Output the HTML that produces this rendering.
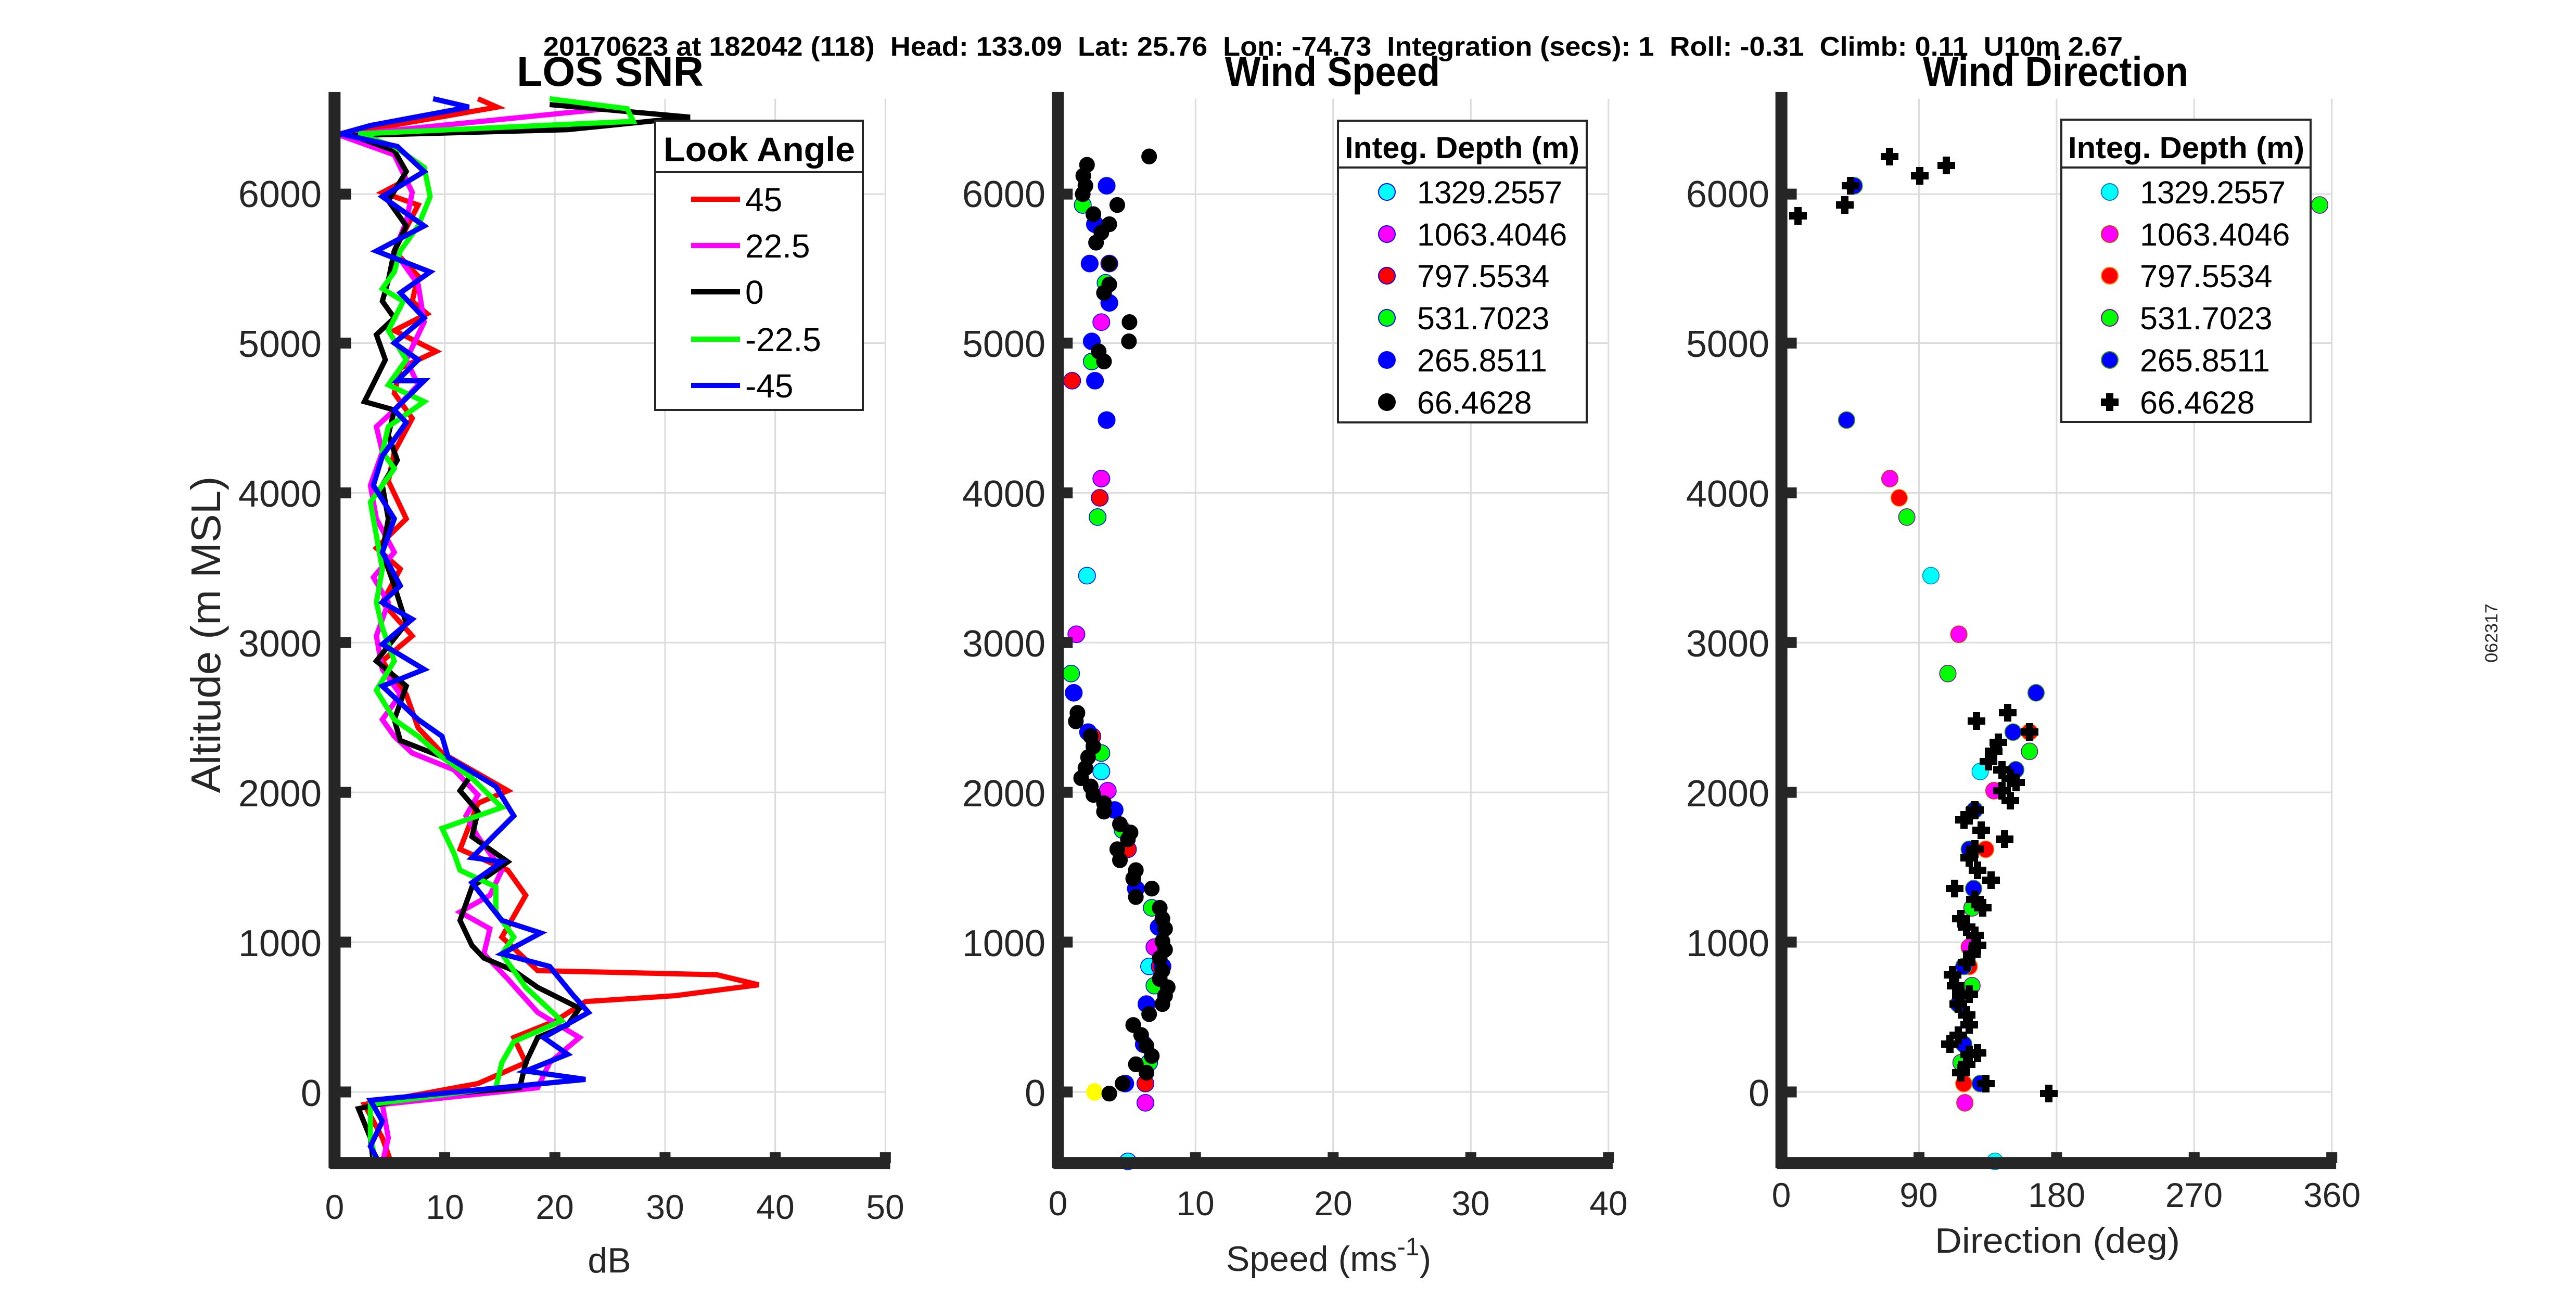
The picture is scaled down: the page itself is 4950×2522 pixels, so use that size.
<!DOCTYPE html>
<html><head><meta charset="utf-8"><style>
html,body{margin:0;padding:0;background:#fff;}
svg{display:block;}
text{font-family:"Liberation Sans",Arial,sans-serif;fill:#262626;white-space:pre;}
.b{font-weight:bold;fill:#000;}
.grid line{stroke:#dcdcdc;stroke-width:3;vector-effect:non-scaling-stroke;}
.ax line{stroke:#262626;stroke-width:23;vector-effect:non-scaling-stroke;}
.tk line{stroke:#262626;stroke-width:21;vector-effect:non-scaling-stroke;}
.d polyline{fill:none;stroke-width:10;stroke-linejoin:miter;vector-effect:non-scaling-stroke;}
.m ellipse{stroke-width:1.5;vector-effect:non-scaling-stroke;}
</style></head><body>
<svg width="4950" height="2522" viewBox="0 0 4950 2522" xmlns="http://www.w3.org/2000/svg" xml:space="preserve">
<rect width="4950" height="2522" fill="#fff"/>

<text class="b" x="1044" y="107" font-size="52" textLength="3035" lengthAdjust="spacingAndGlyphs">20170623 at 182042 (118)  Head: 133.09  Lat: 25.76  Lon: -74.73  Integration (secs): 1  Roll: -0.31  Climb: 0.11  U10m 2.67</text>
<text class="b" x="993" y="165" font-size="80" textLength="359" lengthAdjust="spacingAndGlyphs">LOS SNR</text>
<text class="b" x="2354" y="165" font-size="80" textLength="413" lengthAdjust="spacingAndGlyphs">Wind Speed</text>
<text class="b" x="3695" y="165" font-size="80" textLength="510" lengthAdjust="spacingAndGlyphs">Wind Direction</text>

<g transform="matrix(1.148,0,0,1.6084,0,0)">
 <g class="grid">
  <line x1="744.4" y1="118" x2="744.4" y2="1390"/><line x1="928.8" y1="118" x2="928.8" y2="1390"/><line x1="1113.2" y1="118" x2="1113.2" y2="1390"/><line x1="1297.6" y1="118" x2="1297.6" y2="1390"/><line x1="1482" y1="118" x2="1482" y2="1390"/>
  <line x1="560" y1="1305" x2="1482" y2="1305"/><line x1="560" y1="1126" x2="1482" y2="1126"/><line x1="560" y1="947" x2="1482" y2="947"/><line x1="560" y1="768" x2="1482" y2="768"/><line x1="560" y1="589" x2="1482" y2="589"/><line x1="560" y1="410" x2="1482" y2="410"/><line x1="560" y1="232" x2="1482" y2="232"/>
 </g>
 <g class="d">
  <polyline stroke="#ff0000" points="800,118 832,128 575,160 660,180 680,215 640,230 700,245 660,300 700,330 690,360 715,375 660,395 730,420 670,440 660,470 690,500 660,540 650,575 680,620 630,655 670,680 640,720 690,760 640,790 680,830 700,870 740,900 850,945 800,960 770,1015 850,1040 880,1070 840,1120 900,1160 1200,1165 1270,1177 1130,1190 980,1197 930,1220 860,1240 880,1270 800,1295 610,1320 640,1360 655,1390"/>
  <polyline stroke="#ff00ff" points="1015,130 570,162 660,185 690,230 680,265 660,300 700,340 710,385 680,430 700,460 660,490 630,510 640,540 620,580 630,620 660,660 625,690 650,720 630,760 640,800 670,830 640,860 660,880 690,900 760,920 800,950 780,975 800,1000 840,1040 820,1070 770,1090 820,1110 810,1140 850,1170 900,1210 970,1240 920,1270 900,1300 640,1320 650,1360 640,1390"/>
  <polyline stroke="#000000" points="920,125 1155,140 950,155 590,162 660,180 680,205 650,240 680,270 660,300 650,335 640,360 660,380 630,400 645,430 610,480 660,490 650,520 665,550 640,580 650,620 640,660 660,700 680,745 630,790 680,820 660,860 670,885 760,910 790,925 770,945 800,970 790,1000 850,1030 790,1060 780,1080 770,1100 790,1130 810,1145 860,1160 900,1180 970,1205 950,1225 900,1240 880,1270 870,1300 700,1310 600,1325 620,1360 625,1390"/>
  <polyline stroke="#00ff00" points="920,118 1050,130 1060,145 600,160 660,175 710,200 720,235 700,270 670,300 660,325 640,345 675,360 650,395 680,430 650,460 710,480 650,510 640,540 660,560 620,600 630,640 640,680 630,720 640,750 660,790 630,825 660,860 700,880 740,905 790,930 840,965 740,990 760,1020 770,1040 830,1060 830,1090 860,1120 840,1140 880,1180 940,1220 860,1245 840,1270 830,1300 620,1320 620,1360 630,1390"/>
  <polyline stroke="#0000ff" points="725,118 785,128 620,150 570,160 665,175 710,205 640,235 710,270 630,300 720,325 670,350 710,380 660,410 700,430 665,455 710,455 660,490 680,505 640,545 625,580 660,620 640,660 670,700 640,720 690,740 640,770 710,800 640,820 700,860 740,880 750,905 830,940 860,975 790,1025 840,1030 790,1055 840,1100 905,1115 840,1140 920,1155 960,1190 985,1210 910,1240 950,1260 880,1280 980,1290 620,1315 640,1340 620,1370 635,1390"/>
 </g>
 <g class="ax"><line x1="560" y1="110" x2="560" y2="1396"/><line x1="552" y1="1390" x2="1490" y2="1390"/></g>
 <g class="tk">
  <line x1="560" y1="1305" x2="588" y2="1305"/><line x1="560" y1="1126" x2="588" y2="1126"/><line x1="560" y1="947" x2="588" y2="947"/><line x1="560" y1="768" x2="588" y2="768"/><line x1="560" y1="589" x2="588" y2="589"/><line x1="560" y1="410" x2="588" y2="410"/><line x1="560" y1="232" x2="588" y2="232"/>
  <line x1="744.4" y1="1390" x2="744.4" y2="1377"/><line x1="928.8" y1="1390" x2="928.8" y2="1377"/><line x1="1113.2" y1="1390" x2="1113.2" y2="1377"/><line x1="1297.6" y1="1390" x2="1297.6" y2="1377"/><line x1="1482" y1="1390" x2="1482" y2="1377"/>
 </g>
</g>

<g transform="matrix(1.0204,0,0,1.6084,1800,0)">
 <g class="grid">
  <line x1="487.3" y1="118" x2="487.3" y2="1390"/><line x1="746.5" y1="118" x2="746.5" y2="1390"/><line x1="1005.8" y1="118" x2="1005.8" y2="1390"/><line x1="1265" y1="118" x2="1265" y2="1390"/>
  <line x1="228" y1="1305" x2="1265" y2="1305"/><line x1="228" y1="1126" x2="1265" y2="1126"/><line x1="228" y1="947" x2="1265" y2="947"/><line x1="228" y1="768" x2="1265" y2="768"/><line x1="228" y1="589" x2="1265" y2="589"/><line x1="228" y1="410" x2="1265" y2="410"/><line x1="228" y1="232" x2="1265" y2="232"/>
 </g>
 <g class="m">
  <g fill="#00ffff" stroke="#0000ff"><ellipse cx="283" cy="688" rx="16" ry="10"/><ellipse cx="360" cy="1388" rx="16" ry="10"/><ellipse cx="310" cy="922" rx="16" ry="10"/><ellipse cx="400" cy="1155" rx="16" ry="10"/></g>
  <g fill="#ff00ff" stroke="#0000ff"><ellipse cx="310" cy="572" rx="16" ry="10"/><ellipse cx="263" cy="758" rx="16" ry="10"/><ellipse cx="310" cy="385" rx="16" ry="10"/><ellipse cx="322" cy="945" rx="16" ry="10"/><ellipse cx="393" cy="1318" rx="16" ry="10"/><ellipse cx="410" cy="1132" rx="16" ry="10"/></g>
  <g fill="#ff0000" stroke="#0000ff"><ellipse cx="255" cy="455" rx="16" ry="10"/><ellipse cx="307" cy="595" rx="16" ry="10"/><ellipse cx="325" cy="315" rx="16" ry="10"/><ellipse cx="293" cy="880" rx="16" ry="10"/><ellipse cx="360" cy="1015" rx="16" ry="10"/><ellipse cx="393" cy="1295" rx="16" ry="10"/><ellipse cx="420" cy="1155" rx="16" ry="10"/></g>
  <g fill="#00ff00" stroke="#0000ff"><ellipse cx="275" cy="245" rx="16" ry="10"/><ellipse cx="303" cy="618" rx="16" ry="10"/><ellipse cx="253" cy="805" rx="16" ry="10"/><ellipse cx="292" cy="432" rx="16" ry="10"/><ellipse cx="310" cy="900" rx="16" ry="10"/><ellipse cx="350" cy="992" rx="16" ry="10"/><ellipse cx="405" cy="1085" rx="16" ry="10"/><ellipse cx="410" cy="1178" rx="16" ry="10"/><ellipse cx="400" cy="1270" rx="16" ry="10"/><ellipse cx="318" cy="338" rx="16" ry="10"/></g>
  <g fill="#0000ff" stroke="#0000ff"><ellipse cx="320" cy="222" rx="16" ry="10"/><ellipse cx="288" cy="315" rx="16" ry="10"/><ellipse cx="292" cy="408" rx="16" ry="10"/><ellipse cx="298" cy="455" rx="16" ry="10"/><ellipse cx="320" cy="502" rx="16" ry="10"/><ellipse cx="258" cy="828" rx="16" ry="10"/><ellipse cx="285" cy="875" rx="16" ry="10"/><ellipse cx="335" cy="968" rx="16" ry="10"/><ellipse cx="375" cy="1062" rx="16" ry="10"/><ellipse cx="418" cy="1108" rx="16" ry="10"/><ellipse cx="425" cy="1155" rx="16" ry="10"/><ellipse cx="395" cy="1200" rx="16" ry="10"/><ellipse cx="390" cy="1248" rx="16" ry="10"/><ellipse cx="355" cy="1295" rx="16" ry="10"/><ellipse cx="298" cy="268" rx="16" ry="10"/><ellipse cx="325" cy="362" rx="16" ry="10"/></g>
  <g fill="#ffff00" stroke="#ffff00"><ellipse cx="297" cy="1305" rx="15" ry="10"/></g>
  <g fill="#000" stroke="#000">
   <ellipse cx="400" cy="187" rx="14" ry="9"/><ellipse cx="283" cy="197" rx="14" ry="9"/><ellipse cx="276" cy="210" rx="14" ry="9"/><ellipse cx="280" cy="222" rx="14" ry="9"/><ellipse cx="275" cy="232" rx="14" ry="9"/><ellipse cx="340" cy="245" rx="14" ry="9"/><ellipse cx="295" cy="256" rx="14" ry="9"/><ellipse cx="325" cy="268" rx="14" ry="9"/><ellipse cx="310" cy="278" rx="14" ry="9"/><ellipse cx="300" cy="290" rx="14" ry="9"/><ellipse cx="325" cy="315" rx="14" ry="9"/><ellipse cx="325" cy="340" rx="14" ry="9"/><ellipse cx="315" cy="350" rx="14" ry="9"/><ellipse cx="363" cy="385" rx="14" ry="9"/><ellipse cx="362" cy="408" rx="14" ry="9"/><ellipse cx="305" cy="420" rx="14" ry="9"/><ellipse cx="315" cy="432" rx="14" ry="9"/>
   <ellipse cx="265" cy="852" rx="14" ry="9"/><ellipse cx="262" cy="862" rx="14" ry="9"/><ellipse cx="290" cy="880" rx="14" ry="9"/><ellipse cx="295" cy="892" rx="14" ry="9"/><ellipse cx="285" cy="905" rx="14" ry="9"/><ellipse cx="280" cy="918" rx="14" ry="9"/><ellipse cx="272" cy="930" rx="14" ry="9"/><ellipse cx="290" cy="940" rx="14" ry="9"/><ellipse cx="295" cy="950" rx="14" ry="9"/><ellipse cx="315" cy="960" rx="14" ry="9"/><ellipse cx="315" cy="970" rx="14" ry="9"/><ellipse cx="345" cy="985" rx="14" ry="9"/><ellipse cx="365" cy="995" rx="14" ry="9"/><ellipse cx="360" cy="1003" rx="14" ry="9"/><ellipse cx="340" cy="1015" rx="14" ry="9"/><ellipse cx="345" cy="1028" rx="14" ry="9"/><ellipse cx="375" cy="1040" rx="14" ry="9"/><ellipse cx="370" cy="1050" rx="14" ry="9"/><ellipse cx="375" cy="1072" rx="14" ry="9"/><ellipse cx="405" cy="1062" rx="14" ry="9"/><ellipse cx="420" cy="1085" rx="14" ry="9"/><ellipse cx="425" cy="1098" rx="14" ry="9"/><ellipse cx="430" cy="1110" rx="14" ry="9"/><ellipse cx="425" cy="1125" rx="14" ry="9"/><ellipse cx="430" cy="1135" rx="14" ry="9"/><ellipse cx="420" cy="1145" rx="14" ry="9"/><ellipse cx="425" cy="1160" rx="14" ry="9"/><ellipse cx="420" cy="1170" rx="14" ry="9"/><ellipse cx="435" cy="1180" rx="14" ry="9"/><ellipse cx="430" cy="1190" rx="14" ry="9"/><ellipse cx="425" cy="1200" rx="14" ry="9"/><ellipse cx="400" cy="1212" rx="14" ry="9"/><ellipse cx="370" cy="1225" rx="14" ry="9"/><ellipse cx="385" cy="1237" rx="14" ry="9"/><ellipse cx="395" cy="1250" rx="14" ry="9"/><ellipse cx="405" cy="1262" rx="14" ry="9"/><ellipse cx="375" cy="1272" rx="14" ry="9"/><ellipse cx="395" cy="1282" rx="14" ry="9"/><ellipse cx="325" cy="1307" rx="14" ry="9"/><ellipse cx="350" cy="1295" rx="14" ry="9"/>
  </g>
 </g>
 <g class="ax"><line x1="228" y1="110" x2="228" y2="1396"/><line x1="220" y1="1390" x2="1273" y2="1390"/></g>
 <g class="tk">
  <line x1="228" y1="1305" x2="256" y2="1305"/><line x1="228" y1="1126" x2="256" y2="1126"/><line x1="228" y1="947" x2="256" y2="947"/><line x1="228" y1="768" x2="256" y2="768"/><line x1="228" y1="589" x2="256" y2="589"/><line x1="228" y1="410" x2="256" y2="410"/><line x1="228" y1="232" x2="256" y2="232"/>
  <line x1="487.3" y1="1390" x2="487.3" y2="1377"/><line x1="746.5" y1="1390" x2="746.5" y2="1377"/><line x1="1005.8" y1="1390" x2="1005.8" y2="1377"/><line x1="1265" y1="1390" x2="1265" y2="1377"/>
 </g>
</g>

<g transform="matrix(1.0523,0,0,1.6084,3300,0)">
 <g class="grid">
  <line x1="368.25" y1="118" x2="368.25" y2="1390"/><line x1="619.5" y1="118" x2="619.5" y2="1390"/><line x1="870.75" y1="118" x2="870.75" y2="1390"/><line x1="1122" y1="118" x2="1122" y2="1390"/>
  <line x1="117" y1="1305" x2="1122" y2="1305"/><line x1="117" y1="1126" x2="1122" y2="1126"/><line x1="117" y1="947" x2="1122" y2="947"/><line x1="117" y1="768" x2="1122" y2="768"/><line x1="117" y1="589" x2="1122" y2="589"/><line x1="117" y1="410" x2="1122" y2="410"/><line x1="117" y1="232" x2="1122" y2="232"/>
 </g>
 <g class="m">
  <g fill="#00ffff" stroke="#0080c0"><ellipse cx="390" cy="688" rx="15" ry="10"/><ellipse cx="507" cy="1388" rx="15" ry="10"/><ellipse cx="480" cy="922" rx="15" ry="10"/></g>
  <g fill="#ff00ff" stroke="#c04000"><ellipse cx="315" cy="572" rx="15" ry="10"/><ellipse cx="441" cy="758" rx="15" ry="10"/><ellipse cx="505" cy="945" rx="15" ry="10"/><ellipse cx="452" cy="1318" rx="15" ry="10"/><ellipse cx="460" cy="1132" rx="15" ry="10"/></g>
  <g fill="#ff0000" stroke="#ff8000"><ellipse cx="332" cy="595" rx="15" ry="10"/><ellipse cx="450" cy="1295" rx="15" ry="10"/><ellipse cx="490" cy="1015" rx="15" ry="10"/><ellipse cx="460" cy="1155" rx="15" ry="10"/><ellipse cx="570" cy="875" rx="15" ry="10"/></g>
  <g fill="#00ff00" stroke="#8000a0"><ellipse cx="346" cy="618" rx="15" ry="10"/><ellipse cx="421" cy="805" rx="15" ry="10"/><ellipse cx="1100" cy="245" rx="15" ry="10"/><ellipse cx="570" cy="898" rx="15" ry="10"/><ellipse cx="465" cy="1178" rx="15" ry="10"/><ellipse cx="465" cy="1085" rx="15" ry="10"/><ellipse cx="445" cy="1270" rx="15" ry="10"/></g>
  <g fill="#0000ff" stroke="#40a000"><ellipse cx="236" cy="502" rx="15" ry="10"/><ellipse cx="582" cy="828" rx="15" ry="10"/><ellipse cx="540" cy="875" rx="15" ry="10"/><ellipse cx="545" cy="920" rx="15" ry="10"/><ellipse cx="470" cy="968" rx="15" ry="10"/><ellipse cx="460" cy="1015" rx="15" ry="10"/><ellipse cx="468" cy="1062" rx="15" ry="10"/><ellipse cx="450" cy="1155" rx="15" ry="10"/><ellipse cx="440" cy="1200" rx="15" ry="10"/><ellipse cx="450" cy="1248" rx="15" ry="10"/><ellipse cx="480" cy="1295" rx="15" ry="10"/><ellipse cx="250" cy="222" rx="15" ry="10"/></g>
 </g>
 <g class="ax"><line x1="117" y1="110" x2="117" y2="1396"/><line x1="109" y1="1390" x2="1130" y2="1390"/></g>
 <g class="tk">
  <line x1="117" y1="1305" x2="145" y2="1305"/><line x1="117" y1="1126" x2="145" y2="1126"/><line x1="117" y1="947" x2="145" y2="947"/><line x1="117" y1="768" x2="145" y2="768"/><line x1="117" y1="589" x2="145" y2="589"/><line x1="117" y1="410" x2="145" y2="410"/><line x1="117" y1="232" x2="145" y2="232"/>
  <line x1="368.25" y1="1390" x2="368.25" y2="1377"/><line x1="619.5" y1="1390" x2="619.5" y2="1377"/><line x1="870.75" y1="1390" x2="870.75" y2="1377"/><line x1="1122" y1="1390" x2="1122" y2="1377"/>
 </g>
</g>

<defs><path id="pl" d="M-17,-7 H-7 V-17 H7 V-7 H17 V7 H7 V17 H-7 V7 H-17 Z"/></defs>
<g fill="#000">
<use href="#pl" x="3631" y="301"/><use href="#pl" x="3689" y="338"/><use href="#pl" x="3740" y="318"/><use href="#pl" x="3556" y="357"/><use href="#pl" x="3545" y="394"/><use href="#pl" x="3455" y="415"/>
<use href="#pl" x="3798" y="1386"/><use href="#pl" x="3858" y="1370"/><use href="#pl" x="3900" y="1407"/><use href="#pl" x="3840" y="1427"/><use href="#pl" x="3831" y="1444"/><use href="#pl" x="3821" y="1464"/><use href="#pl" x="3847" y="1480"/><use href="#pl" x="3863" y="1496"/><use href="#pl" x="3874" y="1504"/><use href="#pl" x="3847" y="1520"/><use href="#pl" x="3863" y="1539"/><use href="#pl" x="3852" y="1613"/><use href="#pl" x="3795" y="1557"/><use href="#pl" x="3784" y="1568"/><use href="#pl" x="3774" y="1576"/><use href="#pl" x="3807" y="1596"/><use href="#pl" x="3795" y="1632"/><use href="#pl" x="3784" y="1649"/><use href="#pl" x="3800" y="1673"/><use href="#pl" x="3826" y="1692"/><use href="#pl" x="3756" y="1708"/><use href="#pl" x="3795" y="1729"/><use href="#pl" x="3810" y="1745"/><use href="#pl" x="3768" y="1766"/><use href="#pl" x="3779" y="1782"/><use href="#pl" x="3795" y="1798"/><use href="#pl" x="3800" y="1817"/><use href="#pl" x="3789" y="1834"/><use href="#pl" x="3779" y="1850"/><use href="#pl" x="3752" y="1874"/><use href="#pl" x="3758" y="1895"/><use href="#pl" x="3768" y="1914"/><use href="#pl" x="3784" y="1911"/><use href="#pl" x="3763" y="1930"/><use href="#pl" x="3779" y="1951"/><use href="#pl" x="3784" y="1970"/><use href="#pl" x="3763" y="1990"/><use href="#pl" x="3747" y="2007"/><use href="#pl" x="3784" y="2027"/><use href="#pl" x="3800" y="2024"/><use href="#pl" x="3779" y="2046"/><use href="#pl" x="3768" y="2062"/><use href="#pl" x="3816" y="2083"/><use href="#pl" x="3937" y="2102"/>
</g>

<rect x="1259" y="232" width="399" height="556" fill="#fff" stroke="#262626" stroke-width="4"/>
<line x1="1259" y1="331" x2="1658" y2="331" stroke="#262626" stroke-width="4"/>
<text class="b" x="1275" y="310" font-size="66" textLength="368" lengthAdjust="spacingAndGlyphs">Look Angle</text>
<g stroke-width="10">
<line x1="1328" y1="383" x2="1422" y2="383" stroke="#ff0000"/><line x1="1328" y1="472" x2="1422" y2="472" stroke="#ff00ff"/><line x1="1328" y1="561" x2="1422" y2="561" stroke="#000"/><line x1="1328" y1="652" x2="1422" y2="652" stroke="#00ff00"/><line x1="1328" y1="741" x2="1422" y2="741" stroke="#0000ff"/>
</g>
<g font-size="64">
<text x="1432" y="406" style="fill:#000">45</text><text x="1432" y="495" style="fill:#000">22.5</text><text x="1432" y="584" style="fill:#000">0</text><text x="1432" y="675" style="fill:#000">-22.5</text><text x="1432" y="764" style="fill:#000">-45</text>
</g>

<rect x="2571" y="232" width="478" height="580" fill="#fff" stroke="#262626" stroke-width="4"/>
<line x1="2571" y1="322" x2="3049" y2="322" stroke="#262626" stroke-width="4"/>
<text class="b" x="2584" y="304" font-size="58" textLength="451" lengthAdjust="spacingAndGlyphs">Integ. Depth (m)</text>
<g stroke-width="2">
<circle cx="2665" cy="369" r="16" fill="#00ffff" stroke="#0000ff"/><circle cx="2665" cy="450" r="16" fill="#ff00ff" stroke="#0000ff"/><circle cx="2665" cy="530" r="16" fill="#ff0000" stroke="#0000ff"/><circle cx="2665" cy="611" r="16" fill="#00ff00" stroke="#0000ff"/><circle cx="2665" cy="692" r="16" fill="#0000ff" stroke="#0000ff"/><circle cx="2665" cy="773" r="16" fill="#000" stroke="#000"/>
</g>
<g font-size="61">
<text x="2723" y="391" style="fill:#000" textLength="279">1329.2557</text><text x="2723" y="472" style="fill:#000">1063.4046</text><text x="2723" y="552" style="fill:#000">797.5534</text><text x="2723" y="633" style="fill:#000">531.7023</text><text x="2723" y="714" style="fill:#000">265.8511</text><text x="2723" y="795" style="fill:#000">66.4628</text>
</g>

<rect x="3961" y="230" width="479" height="581" fill="#fff" stroke="#262626" stroke-width="4"/>
<line x1="3961" y1="322" x2="4440" y2="322" stroke="#262626" stroke-width="4"/>
<text class="b" x="3974" y="304" font-size="58" textLength="454" lengthAdjust="spacingAndGlyphs">Integ. Depth (m)</text>
<g stroke-width="2">
<circle cx="4054" cy="369" r="16" fill="#00ffff" stroke="#0080c0"/><circle cx="4054" cy="450" r="16" fill="#ff00ff" stroke="#c04000"/><circle cx="4054" cy="530" r="16" fill="#ff0000" stroke="#ff8000"/><circle cx="4054" cy="611" r="16" fill="#00ff00" stroke="#8000a0"/><circle cx="4054" cy="692" r="16" fill="#0000ff" stroke="#40a000"/>
</g>
<use href="#pl" x="4054" y="773" fill="#000"/>
<g font-size="61">
<text x="4112" y="391" style="fill:#000" textLength="280">1329.2557</text><text x="4112" y="472" style="fill:#000">1063.4046</text><text x="4112" y="552" style="fill:#000">797.5534</text><text x="4112" y="633" style="fill:#000">531.7023</text><text x="4112" y="714" style="fill:#000">265.8511</text><text x="4112" y="795" style="fill:#000">66.4628</text>
</g>

<g font-size="72" text-anchor="end">
<text x="618" y="2126">0</text><text x="618" y="1838">1000</text><text x="618" y="1550">2000</text><text x="618" y="1262">3000</text><text x="618" y="974">4000</text><text x="618" y="686">5000</text><text x="618" y="398">6000</text>
<text x="2009" y="2126">0</text><text x="2009" y="1838">1000</text><text x="2009" y="1550">2000</text><text x="2009" y="1262">3000</text><text x="2009" y="974">4000</text><text x="2009" y="686">5000</text><text x="2009" y="398">6000</text>
<text x="3400" y="2126">0</text><text x="3400" y="1838">1000</text><text x="3400" y="1550">2000</text><text x="3400" y="1262">3000</text><text x="3400" y="974">4000</text><text x="3400" y="686">5000</text><text x="3400" y="398">6000</text>
</g>
<g font-size="66" text-anchor="middle">
<text x="643" y="2343">0</text><text x="855" y="2343">10</text><text x="1066" y="2343">20</text><text x="1278" y="2343">30</text><text x="1490" y="2343">40</text><text x="1701" y="2343">50</text>
<text x="2033" y="2336">0</text><text x="2297" y="2336">10</text><text x="2562" y="2336">20</text><text x="2826" y="2336">30</text><text x="3091" y="2336">40</text>
<text x="3423" y="2320">0</text><text x="3687" y="2320">90</text><text x="3952" y="2320">180</text><text x="4216" y="2320">270</text><text x="4481" y="2320">360</text>
</g>

<text x="1171" y="2446" font-size="68" text-anchor="middle">dB</text>
<text x="2356" y="2443" font-size="68">Speed (ms<tspan dy="-30" font-size="48">-1</tspan><tspan dy="30">)</tspan></text>
<text x="3718" y="2408" font-size="68" textLength="471" lengthAdjust="spacingAndGlyphs">Direction (deg)</text>
<text transform="translate(423,1220) rotate(-90)" font-size="80" text-anchor="middle" textLength="609" lengthAdjust="spacingAndGlyphs">Altitude (m MSL)</text>
<text transform="translate(4799,1217) rotate(-90)" font-size="34" text-anchor="middle">062317</text>
</svg>
</body></html>
